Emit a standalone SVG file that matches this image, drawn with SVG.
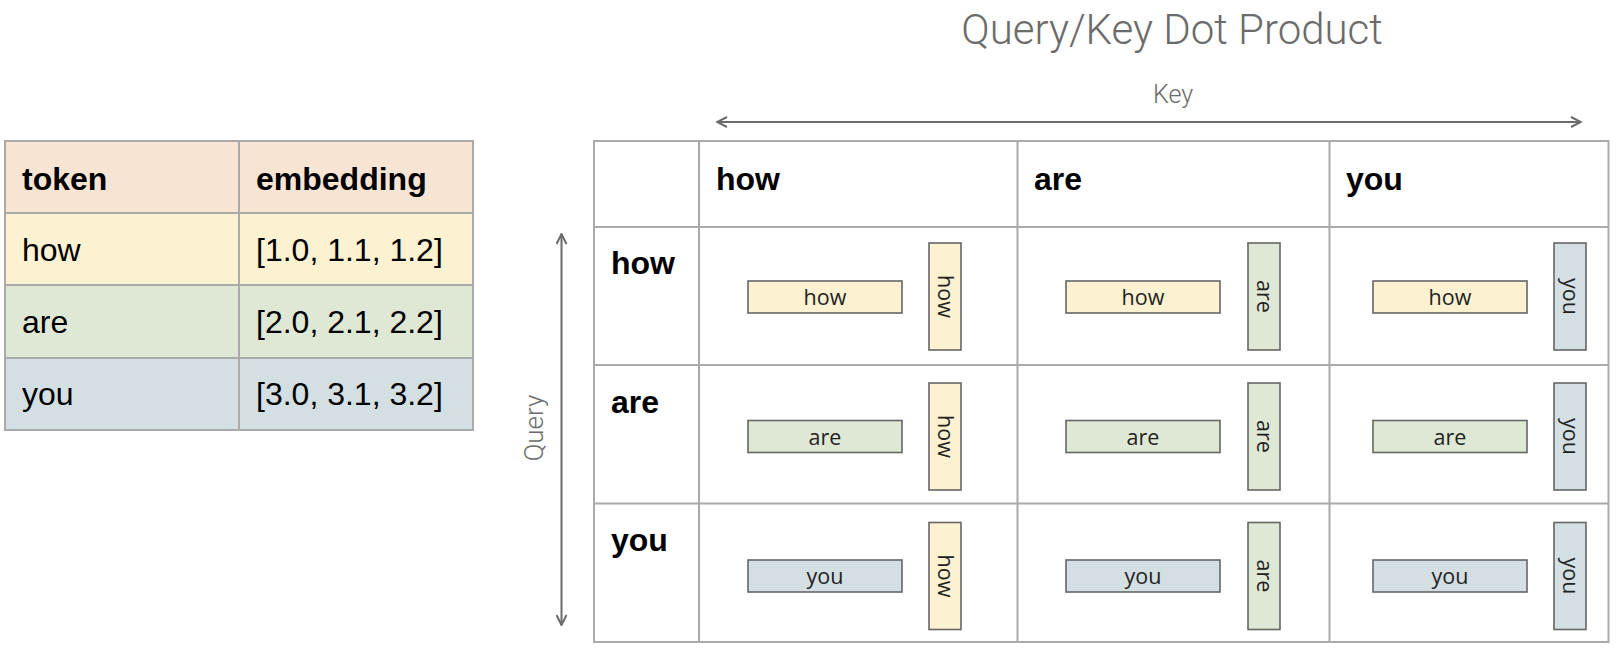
<svg xmlns="http://www.w3.org/2000/svg" width="1620" height="668" viewBox="0 0 1620 668">
<style>
.grid{fill:none;stroke:#aaaaaa;stroke-width:2}
.tt{font-family:"Liberation Sans",Arial,sans-serif;font-size:32px;fill:#000}
.tb{font-family:"Liberation Sans",Arial,sans-serif;font-size:32px;font-weight:bold;fill:#000}
.lbl{font-family:Roboto,"Liberation Sans",sans-serif;font-weight:300;fill:#6b6b6b}
.bx{stroke:#666666;stroke-width:1.6}
.bt{font-family:"Open Sans","Liberation Sans",sans-serif;font-size:21.5px;fill:#222;text-anchor:middle}
.y{fill:#fcf1d0}.g{fill:#dfe8d5}.b{fill:#d3dfe2}.o{fill:#f8e4d2}
.ax{stroke:#6b6b6b;stroke-width:2;fill:none}
</style>
<defs>
<marker id="ah" viewBox="0 0 12 12" refX="11" refY="6" markerWidth="12" markerHeight="12" markerUnits="userSpaceOnUse" orient="auto-start-reverse">
<polyline points="1,1 11,6 1,11" fill="none" stroke="#6b6b6b" stroke-width="2"/>
</marker>
</defs>

<g id="embedding-table">
<rect x="5" y="141" width="468" height="72" class="o"/>
<rect x="5" y="213" width="468" height="72" class="y"/>
<rect x="5" y="285" width="468" height="73" class="g"/>
<rect x="5" y="358" width="468" height="72" class="b"/>
<rect x="5" y="141" width="468" height="289" class="grid"/>
<line x1="239" y1="141" x2="239" y2="430" class="grid"/>
<line x1="5" y1="213" x2="473" y2="213" class="grid"/>
<line x1="5" y1="285" x2="473" y2="285" class="grid"/>
<line x1="5" y1="358" x2="473" y2="358" class="grid"/>
<text x="22" y="190" class="tb">token</text>
<text x="256" y="190" class="tb">embedding</text>
<text x="22" y="261" class="tt">how</text>
<text x="256" y="261" class="tt">[1.0, 1.1, 1.2]</text>
<text x="22" y="333" class="tt">are</text>
<text x="256" y="333" class="tt">[2.0, 2.1, 2.2]</text>
<text x="22" y="405" class="tt">you</text>
<text x="256" y="405" class="tt">[3.0, 3.1, 3.2]</text>
</g>

<g id="title">
<text x="1172" y="44" class="lbl" font-size="42" text-anchor="middle">Query/Key Dot Product</text>
</g>

<g id="connectors">
<line x1="717" y1="122" x2="1581" y2="122" class="ax" marker-start="url(#ah)" marker-end="url(#ah)"/>
<line x1="561.5" y1="234" x2="561.5" y2="625" class="ax" marker-start="url(#ah)" marker-end="url(#ah)"/>
</g>

<g id="axis-labels">
<text x="1173" y="103" class="lbl" font-size="25" text-anchor="middle">Key</text>
<text transform="translate(543,428) rotate(-90)" class="lbl" font-size="26" text-anchor="middle">Query</text>
</g>

<g id="matrix-grid">
<rect x="594" y="141" width="1014.5" height="501" class="grid"/>
<line x1="699" y1="141" x2="699" y2="642" class="grid"/>
<line x1="1017.5" y1="141" x2="1017.5" y2="642" class="grid"/>
<line x1="1329.5" y1="141" x2="1329.5" y2="642" class="grid"/>
<line x1="594" y1="227" x2="1608.5" y2="227" class="grid"/>
<line x1="594" y1="365" x2="1608.5" y2="365" class="grid"/>
<line x1="594" y1="503.5" x2="1608.5" y2="503.5" class="grid"/>
<text x="716" y="190" class="tb">how</text>
<text x="1034" y="190" class="tb">are</text>
<text x="1346" y="190" class="tb">you</text>
<text x="611" y="274" class="tb">how</text>
<text x="611" y="413" class="tb">are</text>
<text x="611" y="551" class="tb">you</text>
</g>

<g id="cell-how-how">
<rect x="748" y="281" width="154" height="32" class="bx y"/><text x="825" y="305" class="bt">how</text>
<rect x="929" y="243" width="32" height="107" class="bx y"/><text transform="translate(945,296.5) rotate(90)" y="7" class="bt">how</text>
</g>
<g id="cell-how-are">
<rect x="1066" y="281" width="154" height="32" class="bx y"/><text x="1143" y="305" class="bt">how</text>
<rect x="1248" y="243" width="32" height="107" class="bx g"/><text transform="translate(1264,296.5) rotate(90)" y="7" class="bt">are</text>
</g>
<g id="cell-how-you">
<rect x="1373" y="281" width="154" height="32" class="bx y"/><text x="1450" y="305" class="bt">how</text>
<rect x="1554" y="243" width="32" height="107" class="bx b"/><text transform="translate(1570,296.5) rotate(90)" y="7" class="bt">you</text>
</g>

<g id="cell-are-how">
<rect x="748" y="420.5" width="154" height="32" class="bx g"/><text x="825" y="444.5" class="bt">are</text>
<rect x="929" y="383" width="32" height="107" class="bx y"/><text transform="translate(945,436.5) rotate(90)" y="7" class="bt">how</text>
</g>
<g id="cell-are-are">
<rect x="1066" y="420.5" width="154" height="32" class="bx g"/><text x="1143" y="444.5" class="bt">are</text>
<rect x="1248" y="383" width="32" height="107" class="bx g"/><text transform="translate(1264,436.5) rotate(90)" y="7" class="bt">are</text>
</g>
<g id="cell-are-you">
<rect x="1373" y="420.5" width="154" height="32" class="bx g"/><text x="1450" y="444.5" class="bt">are</text>
<rect x="1554" y="383" width="32" height="107" class="bx b"/><text transform="translate(1570,436.5) rotate(90)" y="7" class="bt">you</text>
</g>

<g id="cell-you-how">
<rect x="748" y="560" width="154" height="32" class="bx b"/><text x="825" y="584" class="bt">you</text>
<rect x="929" y="522.5" width="32" height="107" class="bx y"/><text transform="translate(945,576) rotate(90)" y="7" class="bt">how</text>
</g>
<g id="cell-you-are">
<rect x="1066" y="560" width="154" height="32" class="bx b"/><text x="1143" y="584" class="bt">you</text>
<rect x="1248" y="522.5" width="32" height="107" class="bx g"/><text transform="translate(1264,576) rotate(90)" y="7" class="bt">are</text>
</g>
<g id="cell-you-you">
<rect x="1373" y="560" width="154" height="32" class="bx b"/><text x="1450" y="584" class="bt">you</text>
<rect x="1554" y="522.5" width="32" height="107" class="bx b"/><text transform="translate(1570,576) rotate(90)" y="7" class="bt">you</text>
</g>
</svg>
